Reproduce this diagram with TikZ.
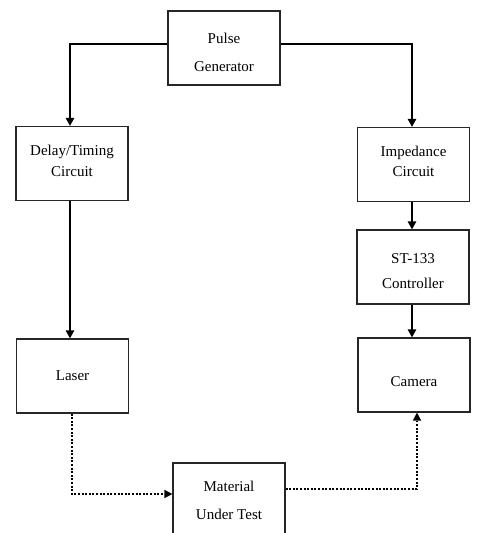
\documentclass[tikz,border=0pt]{standalone}
\usepackage{fontspec}
\setmainfont{Liberation Serif}
\usetikzlibrary{arrows.meta}
\begin{document}
\begin{tikzpicture}[x=1pt,y=-1pt,
  blk/.style={draw=black!85, line width=1.3pt, minimum width=112pt, minimum height=74pt, inner sep=0pt},
  lbl/.style={font=\fontsize{15}{18}\selectfont, inner sep=0pt, anchor=center},
  wire/.style={line width=1.3pt, -{Triangle[length=8pt,width=8.5pt]}},
  dotwire/.style={line width=2pt, dash pattern=on 2pt off 1.6pt, -{Triangle[length=8pt,width=8.5pt,line width=0pt]}}]
\useasboundingbox (0,0) rectangle (477,533);
\clip (0,0) rectangle (477,533);
% blocks
\node[blk] (pg) at (224,48) {};
\node[blk] (dt) at (72,163.5) {};
\node[blk] (ls) at (72.5,376) {};
\node[blk] (ic) at (413.5,164.5) {};
\node[blk] (st) at (413,267) {};
\node[blk] (cm) at (414,375) {};
\node[blk, minimum height=110pt] (mt) at (229,518) {};
% block texts
\node[lbl] (pg1) at (224,38) {Pulse};
\node[lbl] (pg2) at (224,67) {Generator};
\node[lbl] (dt1) at (72,152) {Delay/Timing};
\node[lbl] (dt2) at (72,172) {Circuit};
\node[lbl] (ls1) at (72.5,376) {Laser};
\node[lbl] (ic1) at (413.5,153) {Impedance};
\node[lbl] (ic2) at (413.5,172) {Circuit};
\node[lbl] (st1) at (413,259) {ST-133};
\node[lbl] (st2) at (413,283) {Controller};
\node[lbl] (cm1) at (414,382) {Camera};
\node[lbl] (mt1) at (229,486) {Material};
\node[lbl] (mt2) at (229,514) {Under Test};
% bend points
\coordinate (lt) at (70,44);
\coordinate (rt) at (412,44);
\coordinate (lb) at (72,494);
\coordinate (rb) at (417,489);
% trigger paths
\draw[wire] (pg.west |- lt) -- (lt) -- (lt |- dt.north);
\draw[wire] (pg.east |- rt) -- (rt) -- (rt |- ic.north);
\draw[wire] (lt |- dt.south) -- (lt |- ls.north);
\draw[wire] (rt |- ic.south) -- (rt |- st.north);
\draw[wire] (rt |- st.south) -- (rt |- cm.north);
% optical paths
\draw[dotwire] (lb |- ls.south) -- (lb) -- (lb -| mt.west);
\draw[dotwire] (rb -| mt.east) -- (rb) -- (rb |- cm.south);
\end{tikzpicture}
\end{document}
